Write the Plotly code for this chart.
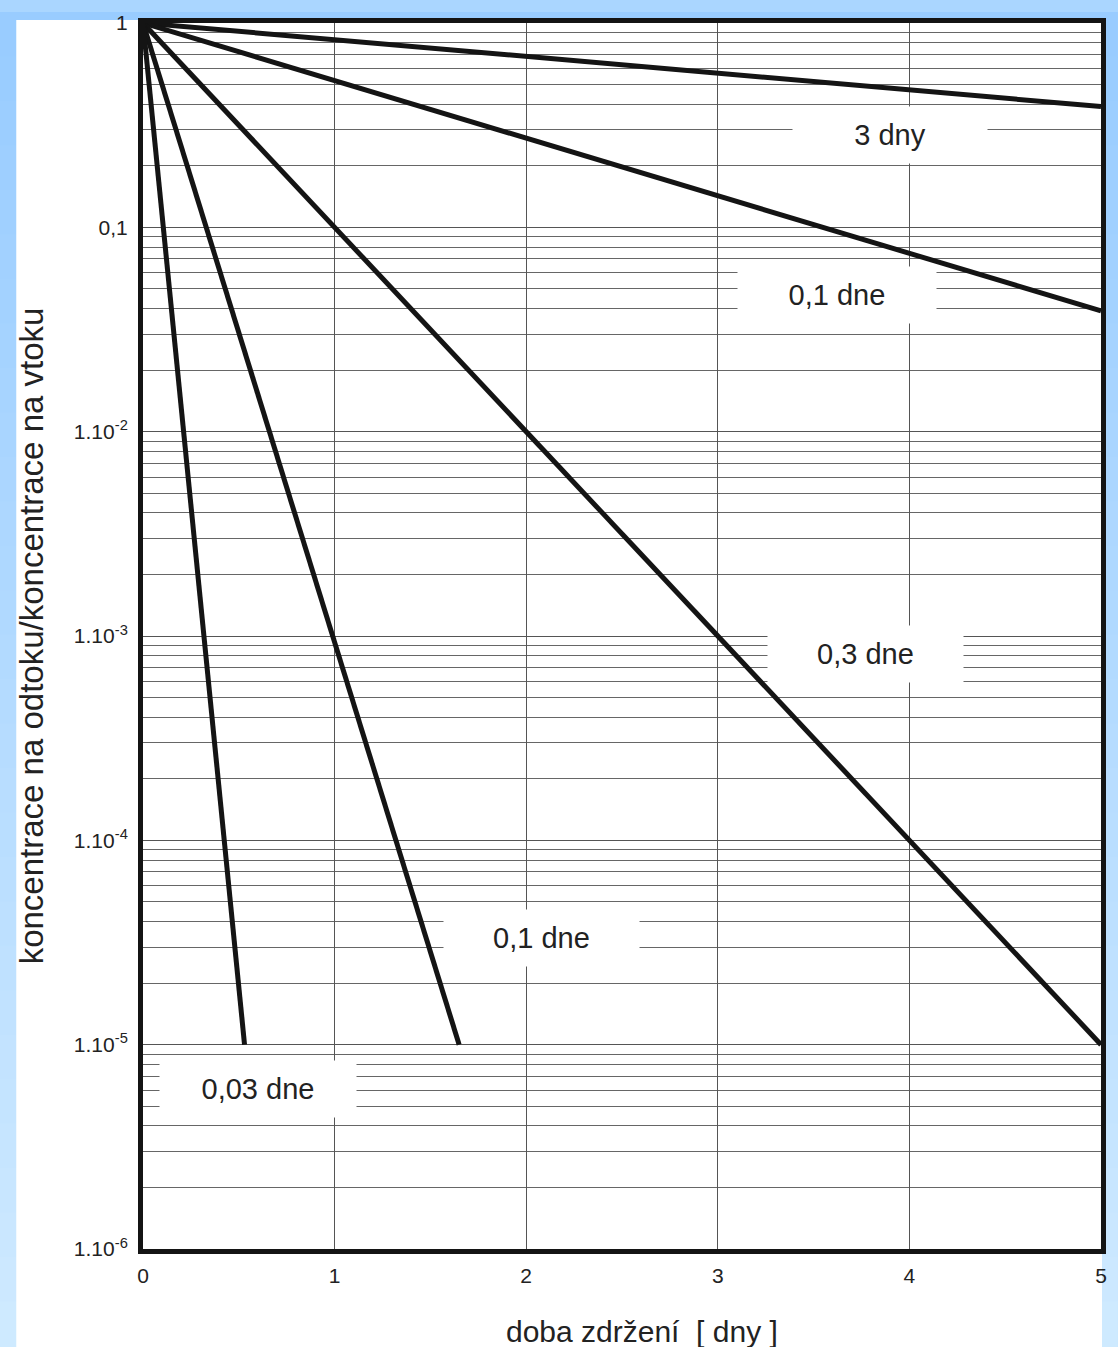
import math
import plotly.graph_objects as go

# ---- data ----
curve_names = ["3 dny", "0,1 dne (horní)", "0,3 dne", "0,1 dne (dolní)", "0,03 dne"]
start_x = [0, 0, 0, 0, 0]
start_y = [1, 1, 1, 1, 1]
end_x = [5, 5, 5, 1.65, 0.53]
end_y = [0.39, 0.039, 1e-5, 1e-5, 1e-5]

label_texts = ["3 dny", "0,1 dne", "0,3 dne", "0,1 dne", "0,03 dne"]
label_x = [3.9, 3.62, 3.77, 2.08, 0.60]
label_y = [0.283, 0.0468, 8.2e-4, 3.34e-5, 6.05e-6]

y_tick_vals = [1, 0.1, 1e-2, 1e-3, 1e-4, 1e-5, 1e-6]
y_tick_text = ["1", "0,1", "1.10<sup>-2</sup>", "1.10<sup>-3</sup>", "1.10<sup>-4</sup>",
               "1.10<sup>-5</sup>", "1.10<sup>-6</sup>"]
x_tick_vals = [0, 1, 2, 3, 4, 5]
x_tick_text = ["0", "1", "2", "3", "4", "5"]

x_title = "doba zdržení  [ dny ]"
y_title = "koncentrace na odtoku/koncentrace na vtoku"

# ---- figure ----
W, H = 1118, 1347
L, R, T, B = 143, 15, 11, 98
pw, ph = W - L - R, H - T - B

def px_x(p):
    return (p - L) / pw

def px_y(p):
    return (H - B - p) / ph

FONT = "Liberation Sans, Arial, sans-serif"

fig = go.Figure()
for i in range(len(curve_names)):
    fig.add_trace(go.Scatter(
        x=[start_x[i], end_x[i]], y=[start_y[i], end_y[i]],
        mode="lines", name=curve_names[i],
        line=dict(color="#141414", width=5),
        showlegend=False, hoverinfo="skip"))

shapes = []
# gradient blue background bands
nb = 30
for k in range(nb):
    t = k / (nb - 1)
    r = int(153 + (206 - 153) * t)
    g = int(204 + (234 - 204) * t)
    b = 255
    y0 = k * H / nb
    y1 = (k + 1) * H / nb + 1
    shapes.append(dict(type="rect", xref="paper", yref="paper",
                       x0=px_x(-2), x1=px_x(W + 2), y0=px_y(y1), y1=px_y(y0),
                       fillcolor=f"rgb({r},{g},{b})", line=dict(width=0),
                       layer="below"))
# white panel
shapes.append(dict(type="rect", xref="paper", yref="paper",
                   x0=px_x(16), x1=px_x(1104), y0=px_y(H + 20), y1=px_y(8),
                   fillcolor="white", line=dict(width=0), layer="below"))

annotations = []
box_w = [192, 196, 193, 193, 194]
for i in range(len(label_texts)):
    annotations.append(dict(
        x=label_x[i], y=math.log10(label_y[i]), xref="x", yref="y",
        text=label_texts[i], showarrow=False,
        font=dict(family=FONT, size=29, color="#222"),
        bgcolor="white", width=box_w[i], height=54, borderpad=1))

# x axis title (positioned as in the reference)
annotations.append(dict(
    x=px_x(643), y=px_y(1332), xref="paper", yref="paper",
    text=x_title, showarrow=False, xanchor="center", yanchor="middle",
    font=dict(family=FONT, size=30, color="#222")))

fig.update_layout(
    width=W, height=H,
    margin=dict(l=L, r=R, t=T, b=B),
    paper_bgcolor="rgb(170,214,255)",
    plot_bgcolor="white",
    shapes=shapes,
    annotations=annotations,
    font=dict(family=FONT, color="#222"),
    xaxis=dict(
        range=[0, 5], tickvals=x_tick_vals, ticktext=x_tick_text,
        showgrid=True, gridcolor="#555", gridwidth=1,
        showline=True, linecolor="#141414", linewidth=5, mirror=True,
        ticks="", ticklabelstandoff=4, zeroline=False,
        tickfont=dict(size=21, color="#222"),
    ),
    yaxis=dict(
        type="log", range=[-6, 0],
        tickvals=y_tick_vals, ticktext=y_tick_text,
        showgrid=True, gridcolor="#555", gridwidth=1,
        minor=dict(dtick="D1", showgrid=True, gridcolor="#666", gridwidth=1, ticks=""),
        showline=True, linecolor="#141414", linewidth=5, mirror=True,
        ticks="", ticklabelstandoff=6, zeroline=False,
        tickfont=dict(size=21, color="#222"),
        title=dict(text=y_title, font=dict(size=33, color="#222"), standoff=22),
    ),
)

fig.write_html("out.html",
               config={"displayModeBar": False},
               post_script="document.body.style.margin='0';document.body.style.padding='0';")
